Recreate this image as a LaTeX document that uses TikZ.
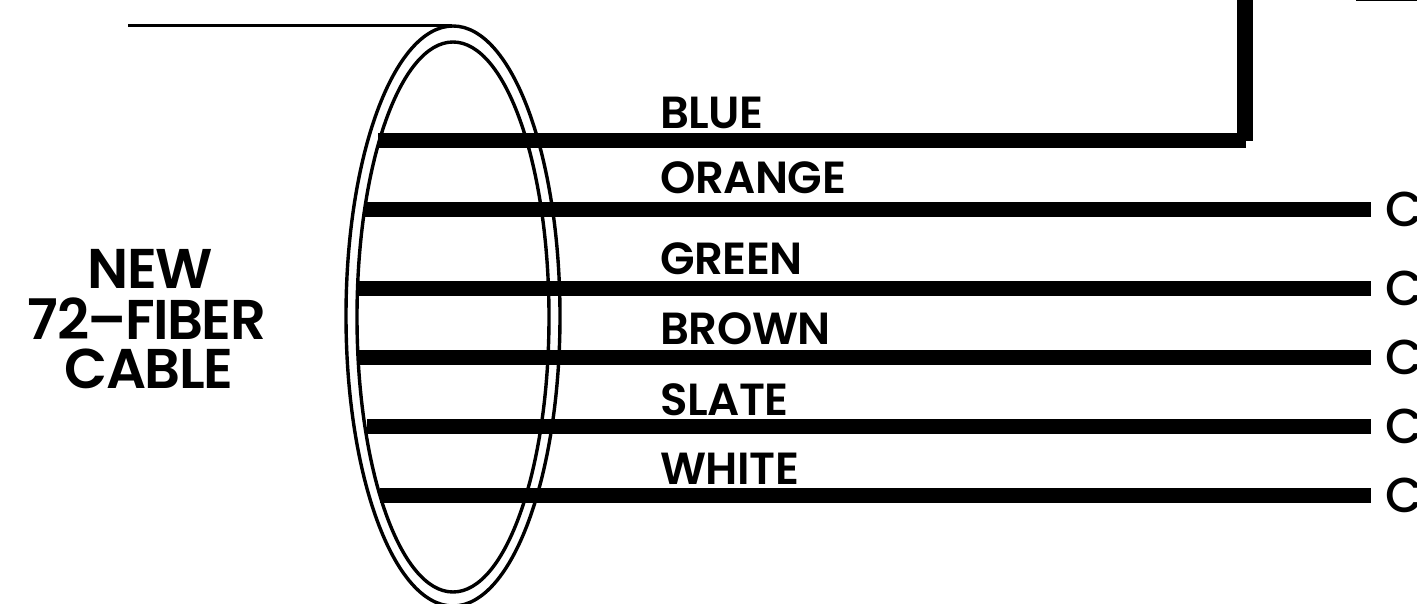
\documentclass[tikz,border=0pt]{standalone}
\usepackage{fontspec}
\setmainfont{Poppins}[UprightFont=* Medium]
\newfontfamily\titlefont{Poppins}[UprightFont=* SemiBold,LetterSpace=-2.8]
\newfontfamily\labelfont{Poppins}[UprightFont=* SemiBold,LetterSpace=-1]
\usetikzlibrary{shapes.geometric}
\tikzset{
  wire/.style={line width=15.6pt,line cap=butt},
  hoop/.style={draw,ellipse,line width=3.4pt,inner sep=0pt,outer sep=0pt},
  colourlabel/.style={anchor=base west,inner sep=0pt,font=\labelfont\fontsize{45}{45}\selectfont},
  titleline/.style={anchor=base,inner sep=0pt,font=\titlefont\fontsize{56}{56}\selectfont},
  endlabel/.style={anchor=base west,inner sep=0pt,font=\fontsize{49}{49}\selectfont}
}
\begin{document}
\begin{tikzpicture}[x=1pt,y=-1pt]
\useasboundingbox (0,0) rectangle (1417,604);
\clip (0,0) rectangle (1417,604);
\node[hoop,minimum width=214pt,minimum height=580pt] (outer) at (453,316) {};
\node[hoop,minimum width=192pt,minimum height=550pt] (inner) at (453,317) {};
% top lead-in
\coordinate (leadstart) at (128,25.5);
\coordinate (leadend) at (452,25.5);
\draw[line width=3.4pt] (leadstart) -- (leadend);
% wires
\coordinate (b0) at (378,140.5);
\coordinate (b1) at (1246,140.5);
\coordinate (b2) at (1245,141);
\coordinate (b3) at (1245,0);
\draw[wire] (b0) -- (b1);
\draw[line width=16pt] (b2) -- (b3);
\foreach \n/\xa/\yy in {o/365/209.5, g/358/288.5, r/358/357.5, s/367/426.5, w/380/495.5}{
  \coordinate (\n0) at (\xa,\yy);
  \coordinate (\n1) at (1371,\yy);
  \draw[wire] (\n0) -- (\n1);
  \node[endlabel] (\n c) at (1385,\yy+17) {C};
}
% labels
\node[colourlabel] (lblue) at (660,129) {BLUE};
\node[colourlabel] (lorange) at (660,194) {ORANGE};
\node[colourlabel] (lgreen) at (660,275) {GREEN};
\node[colourlabel] (lbrown) at (660,344) {BROWN};
\node[colourlabel] (lslate) at (660,415) {SLATE};
\node[colourlabel] (lwhite) at (660,484) {WHITE};
\node[titleline] (t1) at (150,288) {NEW};
\node[titleline] (t2) at (147,339) {72–FIBER};
\node[titleline] (t3) at (149,388) {CABLE};
% corner mark
\coordinate (m0) at (1356,0.5);
\coordinate (m1) at (1417,0.5);
\draw[line width=2pt] (m0) -- (m1);
\end{tikzpicture}
\end{document}
